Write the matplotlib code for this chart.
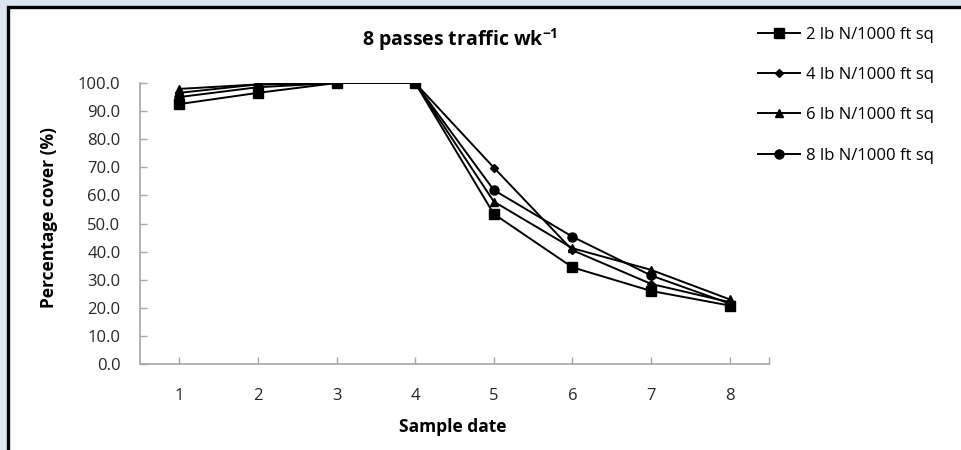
import matplotlib
matplotlib.use('Agg')
import matplotlib.pyplot as plt
from matplotlib.patches import Rectangle

plt.rcParams['font.family'] = ['Open Sans', 'DejaVu Sans']
plt.rcParams['mathtext.fontset'] = 'custom'
plt.rcParams['mathtext.bf'] = 'Open Sans:bold'
plt.rcParams['mathtext.rm'] = 'Open Sans'

# sample dates and percentage cover per N rate
dates = [1, 2, 3, 4, 5, 6, 7, 8]
n2 = [92.5, 96.5, 100.0, 100.0, 53.4, 34.4, 26.0, 20.8]
n4 = [96.5, 99.5, 100.0, 100.0, 69.9, 40.5, 28.5, 22.0]
n6 = [97.9, 99.5, 100.0, 100.0, 57.8, 41.2, 33.5, 23.0]
n8 = [95.0, 98.5, 100.0, 100.0, 61.9, 45.3, 31.5, 21.5]
labels = ['2 lb N/1000 ft sq', '4 lb N/1000 ft sq', '6 lb N/1000 ft sq', '8 lb N/1000 ft sq']
yticks = [0, 10, 20, 30, 40, 50, 60, 70, 80, 90, 100]

fig = plt.figure(figsize=(9.61, 4.5), dpi=100, facecolor='#dbe5f1')
frame = Rectangle((7.5 / 961, -0.1), 1.2, 1.1 - 6.5 / 450, transform=fig.transFigure,
                  facecolor='white', edgecolor='black', linewidth=2.4, zorder=-1)
fig.add_artist(frame)

ax = fig.add_axes([140 / 961, 86 / 450, 629 / 961, 281 / 450])
ax.set_facecolor('none')

series = [n2, n4, n6, n8]
markers = ['s', 'D', '^', 'o']
msizes = [6.5, 4.5, 6, 6.5]
for vals, lab, m, ms in zip(series, labels, markers, msizes):
    ax.plot(dates, vals, color='black', lw=1.4, marker=m, ms=ms, label=lab)

ax.set_xlim(0.5, 8.5)
ax.set_ylim(0, 100)
ax.set_yticks(yticks)
ax.set_yticklabels(['%.1f' % v for v in yticks])
ax.set_xticks(dates)
ax.set_xticks([8.5], minor=True)

for s in ['top', 'right']:
    ax.spines[s].set_visible(False)
for s in ['left', 'bottom']:
    ax.spines[s].set_color('#a6a6a6')
    ax.spines[s].set_linewidth(1.2)

ax.tick_params(axis='both', which='both', direction='in', length=5, width=1,
               color='#a6a6a6', labelsize=12, labelcolor='#262626')
ax.tick_params(axis='y', pad=14)
ax.tick_params(axis='x', pad=17)

ax.set_xlabel('Sample date', fontsize=12.5, fontweight='bold')
ax.set_ylabel('Percentage cover (%)', fontsize=12.5, fontweight='bold')
ax.xaxis.set_label_coords(0.497, -0.192)
ax.yaxis.set_label_coords(-0.13, 0.52)

fig.text(460 / 961, 1 - 40 / 450, r'8 passes traffic wk$^{\mathbf{-1}}$',
         ha='center', va='center', fontsize=14, fontweight='bold')

fig.legend(loc='upper left', bbox_to_anchor=(758 / 961, 1 - 27 / 450), frameon=False,
           fontsize=12, handlelength=2.5, handletextpad=0.35, labelspacing=1.45,
           borderpad=0, borderaxespad=0)

fig.savefig('out.png', dpi=100, facecolor=fig.get_facecolor())
